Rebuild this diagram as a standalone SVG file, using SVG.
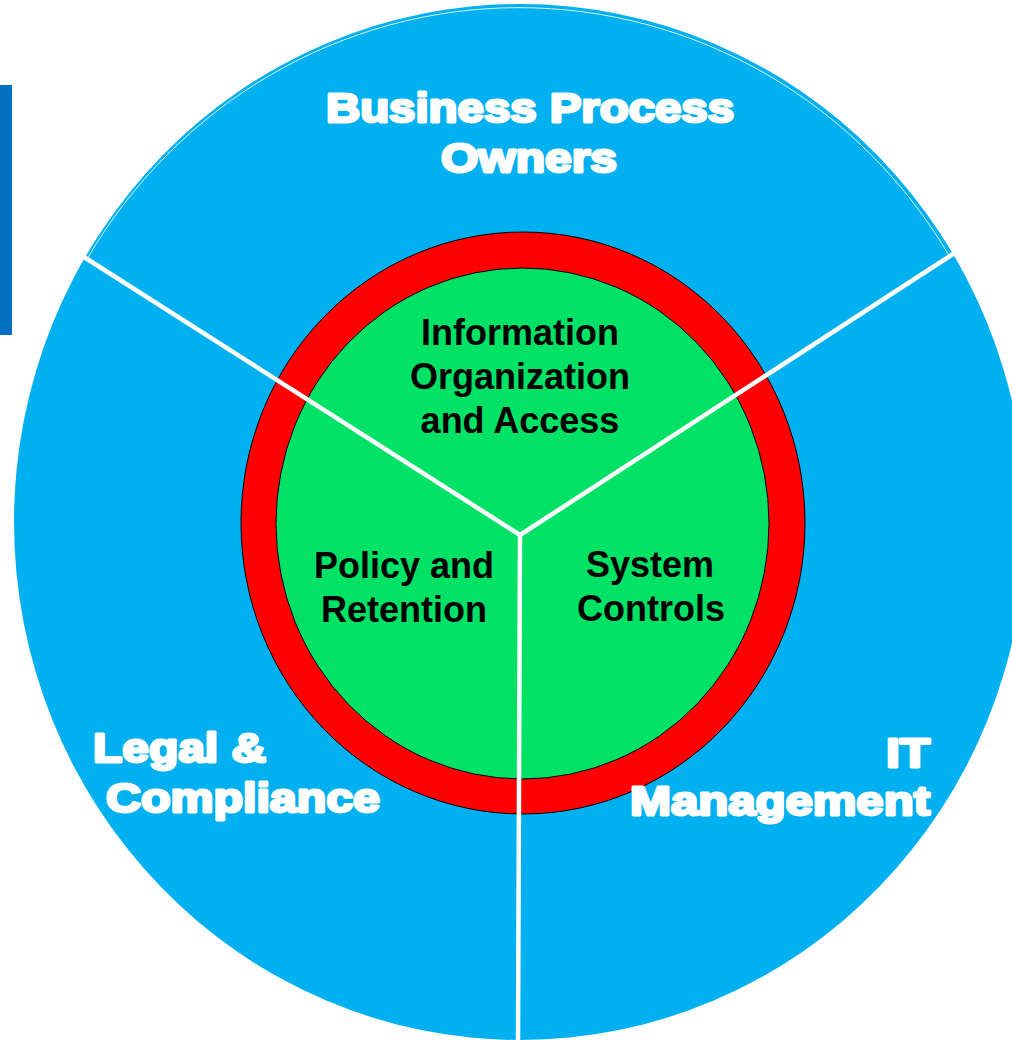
<svg xmlns="http://www.w3.org/2000/svg" width="1012" height="1040" viewBox="0 0 1012 1040">
  <style>
    .outer-label { font-family: "Liberation Sans", Arial, sans-serif; font-weight: bold; font-size: 41px; fill: #ffffff; stroke: #ffffff; stroke-width: 2.8; stroke-linejoin: round; }
    .inner-label { font-family: "Liberation Sans", Arial, sans-serif; font-weight: bold; font-size: 36px; fill: #000000; text-anchor: middle; }
    .divider { stroke: #ffffff; stroke-width: 4.5; fill: none; }
  </style>

  <!-- side accent bar -->
  <rect id="accent-bar" x="0" y="85" width="12" height="250" fill="#0070C0"/>

  <!-- outer stakeholder disc -->
  <g id="stakeholders">
    <ellipse cx="520" cy="522" rx="506" ry="518" fill="#00B0F0"/>
    <path d="M 87 259 A 503 515 0 0 1 950 257" fill="none" stroke="#ffffff" stroke-width="1" opacity="0.85"/>
  </g>

  <!-- red ring and green core -->
  <g id="core-ring">
    <ellipse cx="523" cy="523" rx="282" ry="291" fill="#FF0000" stroke="#000000" stroke-width="1"/>
  </g>
  <g id="core">
    <ellipse cx="522.5" cy="523.5" rx="246.5" ry="255.5" fill="#00E266" stroke="#000000" stroke-width="1"/>
  </g>

  <!-- sector dividers -->
  <g id="connectors">
    <line class="divider" x1="520" y1="535" x2="84" y2="257"/>
    <line class="divider" x1="520" y1="535" x2="953" y2="254"/>
    <line class="divider" x1="520" y1="535" x2="518" y2="1042"/>
  </g>

  <!-- outer sector labels -->
  <g id="business-process-owners">
    <text class="outer-label" x="326" y="122" textLength="408" lengthAdjust="spacingAndGlyphs">Business Process</text>
    <text class="outer-label" x="441" y="172" textLength="176" lengthAdjust="spacingAndGlyphs">Owners</text>
  </g>
  <g id="legal-compliance">
    <text class="outer-label" x="93" y="762" textLength="173" lengthAdjust="spacingAndGlyphs">Legal &amp;</text>
    <text class="outer-label" x="106" y="812" textLength="274" lengthAdjust="spacingAndGlyphs">Compliance</text>
  </g>
  <g id="it-management">
    <text class="outer-label" x="886" y="767" textLength="44" lengthAdjust="spacingAndGlyphs">IT</text>
    <text class="outer-label" x="630" y="815" textLength="300" lengthAdjust="spacingAndGlyphs">Management</text>
  </g>

  <!-- core sector labels -->
  <g id="information-organization">
    <text class="inner-label" x="520" y="345">Information</text>
    <text class="inner-label" x="520" y="389">Organization</text>
    <text class="inner-label" x="520" y="433">and Access</text>
  </g>
  <g id="policy-retention">
    <text class="inner-label" x="404" y="578">Policy and</text>
    <text class="inner-label" x="404" y="622">Retention</text>
  </g>
  <g id="system-controls">
    <text class="inner-label" x="650" y="577">System</text>
    <text class="inner-label" x="651" y="621">Controls</text>
  </g>
</svg>
